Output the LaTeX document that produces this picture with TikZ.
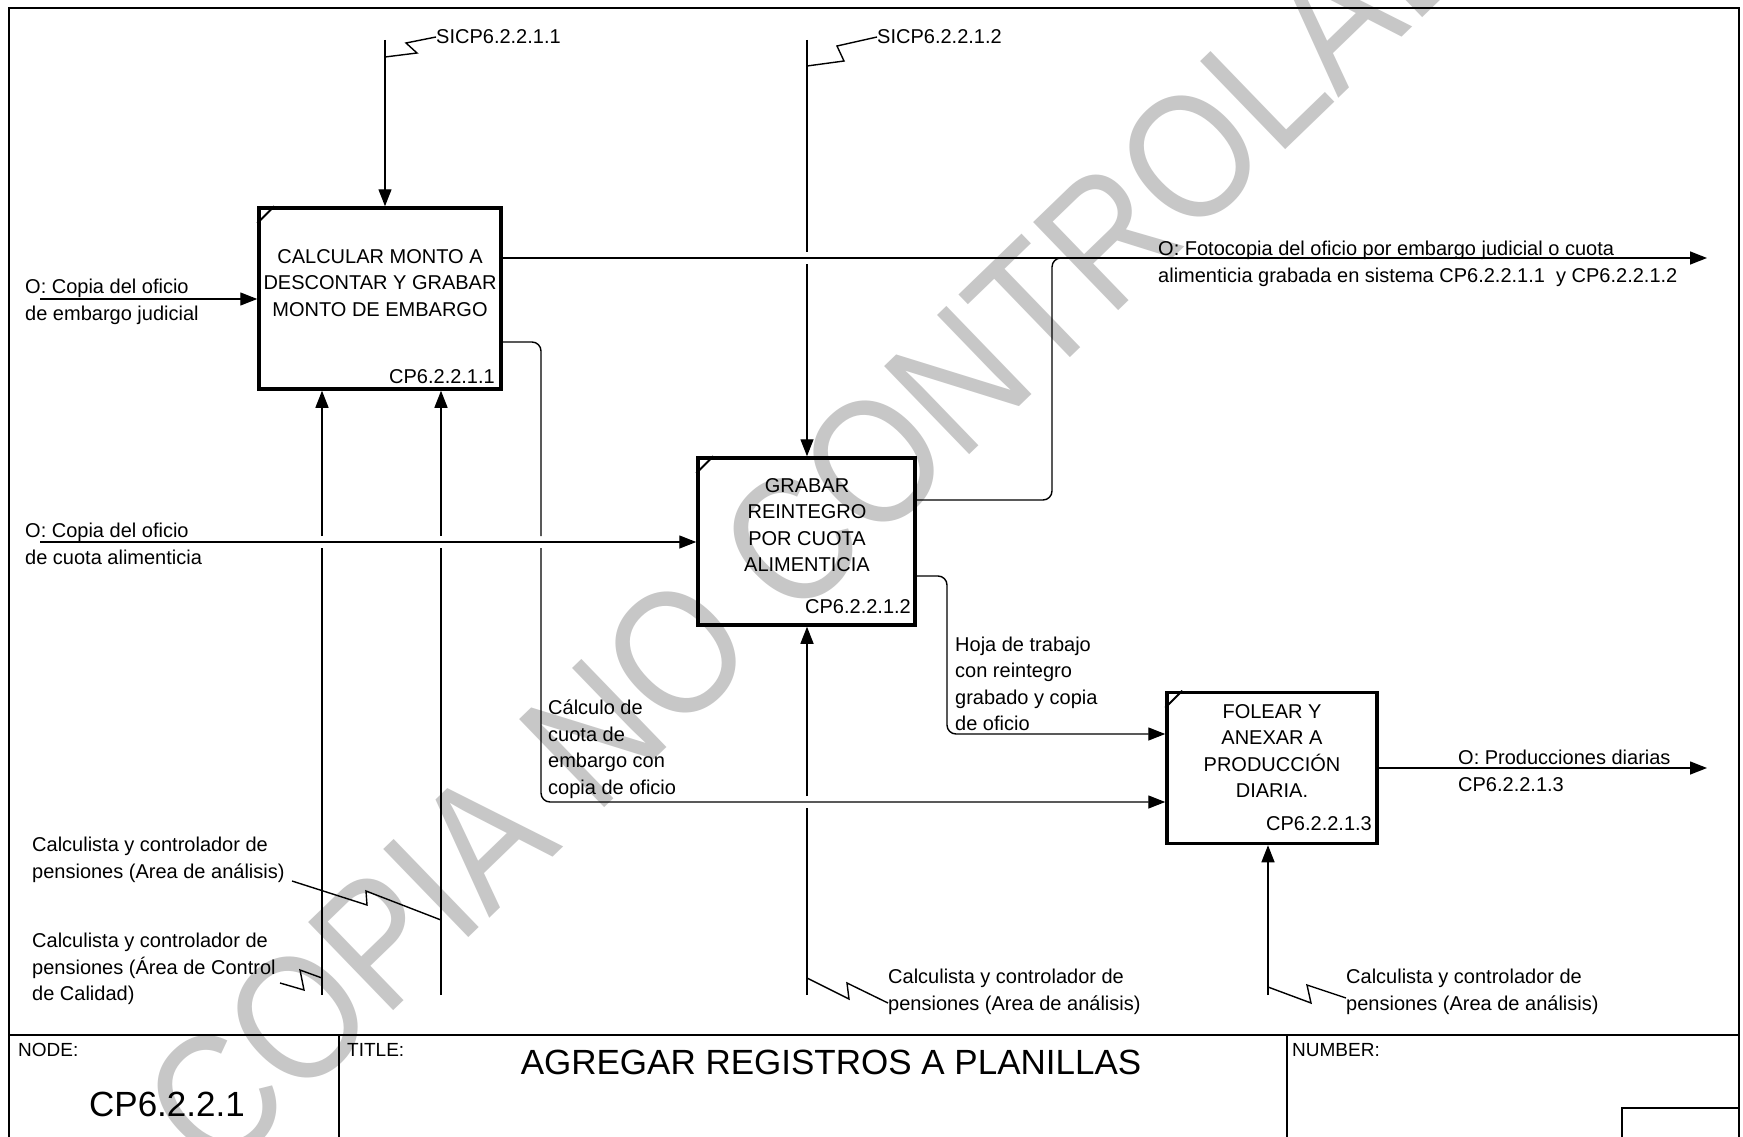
\documentclass[tikz,border=0pt]{standalone}
\usepackage{fontspec}
\usepackage{graphicx}
\setmainfont{Liberation Sans}
\usetikzlibrary{arrows.meta}
\begin{document}
\begin{tikzpicture}[x=1pt,y=-1pt,
  wire/.style={line width=1.4pt},
  arr/.style={line width=1.4pt,-{Triangle[length=17pt,width=13pt]}},
  flow/.style={line width=1.4pt,rounded corners=9pt},
  sq/.style={line width=1.4pt,line join=miter},
  box/.style={draw,line width=3.5pt,rectangle,inner sep=0pt},
  corner/.style={line width=2pt},
  lbl/.style={font=\fontsize{20}{26.5}\selectfont,inner sep=0pt,align=left,anchor=west},
  ctr/.style={font=\fontsize{20}{26.5}\selectfont,inner sep=0pt,align=center},
  code/.style={font=\fontsize{20}{24}\selectfont,inner sep=0pt,anchor=east},
  hdr/.style={font=\fontsize{19}{22}\selectfont,inner sep=0pt,anchor=west},
  big/.style={font=\fontsize{35}{40}\selectfont,inner sep=0pt},
  frame/.style={line width=2pt}
]
\useasboundingbox (0,0) rectangle (1743,1137);
\clip (0,0) rectangle (1743,1137);
\fill[white] (0,0) rectangle (1743,1137);

% watermark
\node[rotate=44,text=black!22,inner sep=0pt,font=\fontsize{178}{180}\selectfont] (wm) at (850,485) {\scalebox{0.871}[1]{COPIA NO CONTROLADA}};

% sheet frame and title block
\draw[frame] (9,8) rectangle (1739,1160);
\draw[line width=2.5pt] (9,1035) -- (1739,1035);
\draw[frame] (339,1035) -- (339,1160);
\draw[frame] (1287,1035) -- (1287,1160);
\draw[frame] (1622,1160) |- (1739,1108);
\node[hdr] (nodehdr) at (18,1050) {NODE:};
\node[hdr] (titlehdr) at (347,1050) {TITLE:};
\node[hdr] (numhdr) at (1292,1050) {NUMBER:};
\node[big] (title) at (831,1062) {AGREGAR REGISTROS A PLANILLAS};
\node[big] (nodeid) at (167,1104) {CP6.2.2.1};

% activity boxes
\node[box,minimum width=242pt,minimum height=181pt] (b1) at (380,298.5) {};
\node[box,minimum width=217pt,minimum height=167pt] (b2) at (806.5,541.5) {};
\node[box,minimum width=210pt,minimum height=151pt] (b3) at (1272,768) {};
\draw[corner] ([yshift=-17pt]b1.north west) -- ([xshift=17pt]b1.north west);
\draw[corner] ([yshift=-17pt]b2.north west) -- ([xshift=17pt]b2.north west);
\draw[corner] ([yshift=-17pt]b3.north west) -- ([xshift=17pt]b3.north west);

\node[ctr] (b1t) at (380,283) {CALCULAR MONTO A\\DESCONTAR Y GRABAR\\MONTO DE EMBARGO};
\node[ctr] (b2t) at (807,525) {GRABAR\\REINTEGRO\\POR CUOTA\\ALIMENTICIA};
\node[ctr] (b3t) at (1272,751) {FOLEAR Y\\ANEXAR A\\PRODUCCIÓN\\DIARIA.};
\node[code] (b1n) at (495,377) {CP6.2.2.1.1};
\node[code] (b2n) at (911,607) {CP6.2.2.1.2};
\node[code] (b3n) at (1372,824) {CP6.2.2.1.3};

% arrow labels
\node[lbl] (in1) at (25,302) {O: Copia del oficio\\de embargo judicial};
\node[lbl] (in2) at (25,544) {O: Copia del oficio\\de cuota alimenticia};
\node[lbl] (mec1) at (32,860) {Calculista y controlador de\\pensiones (Area de análisis)};
\node[lbl] (mec2) at (32,969) {Calculista y controlador de\\pensiones (Área de Control\\de Calidad)};
\node[lbl] (calc) at (548,749) {Cálculo de\\cuota de\\embargo con\\copia de oficio};
\node[lbl] (hoja) at (955,684) {Hoja de trabajo\\con reintegro\\grabado y copia\\de oficio};
\node[lbl] (out1) at (1158,264) {O: Fotocopia del oficio por embargo judicial o cuota\\alimenticia grabada en sistema CP6.2.2.1.1\ \ y CP6.2.2.1.2};
\node[lbl] (out2) at (1458,771) {O: Producciones diarias\\CP6.2.2.1.3};
\node[lbl] (sic1) at (436,37) {SICP6.2.2.1.1};
\node[lbl] (sic2) at (877,37) {SICP6.2.2.1.2};
\node[lbl] (mec3) at (888,992) {Calculista y controlador de\\pensiones (Area de análisis)};
\node[lbl] (mec4) at (1346,992) {Calculista y controlador de\\pensiones (Area de análisis)};

% free ends
\coordinate (c1top) at (385,40);
\coordinate (c2top) at (807,40);
\coordinate (i1start) at (40,299);
\coordinate (i2start) at (40,542);
\coordinate (o1end) at (1707,258);
\coordinate (o5end) at (1707,768);
\coordinate (m1a) at (322,995);
\coordinate (m1b) at (441,995);
\coordinate (m2) at (807,995);
\coordinate (m3) at (1268,995);

% controls
\draw[arr] (c1top) -- (c1top |- b1.north);
\draw[wire] (c2top) -- (807,252);
\draw[arr] (807,264) -- (c2top |- b2.north);
\draw[sq] (385,57) -- (417,53) -- (406,43) -- (sic1.west);
\draw[sq] (807,66) -- (844,61) -- (837,46) -- (sic2.west);

% inputs
\draw[arr] (i1start) -- (i1start -| b1.west);
\draw[arr] (i2start) -- (i2start -| b2.west);

% outputs
\draw[arr] (b1.east |- o1end) -- (o1end);
\draw[flow] (b2.east |- 0,500) -- (1052,500) -- (1052,258) -- (1075,258);
\draw[flow] (b1.east |- 0,342) -- (541,342) -- (541,536);
\draw[flow,-{Triangle[length=17pt,width=13pt]}] (541,548) -- (541,802) -- (b3.west |- 0,802);
\draw[flow,-{Triangle[length=17pt,width=13pt]}] (b2.east |- 0,576) -- (947,576) -- (947,734) -- (b3.west |- 0,734);
\draw[arr] (b3.east |- o5end) -- (o5end);

% mechanisms
\draw[wire] (m1a) -- (322,548);
\draw[arr] (322,536) -- (m1a |- b1.south);
\draw[wire] (m1b) -- (441,548);
\draw[arr] (441,536) -- (m1b |- b1.south);
\draw[wire] (m2) -- (807,808);
\draw[arr] (807,796) -- (m2 |- b2.south);
\draw[arr] (m3) -- (m3 |- b3.south);
\draw[sq] (292,881) -- (367,905) -- (366,891) -- (441,920);
\draw[sq] (280,983) -- (304,990) -- (300,970) -- (322,978);
\draw[sq] (807,978) -- (849,999) -- (847,983) -- (888,1003);
\draw[sq] (1268,987) -- (1311,1003) -- (1307,985) -- (1346,998);
\end{tikzpicture}
\end{document}
